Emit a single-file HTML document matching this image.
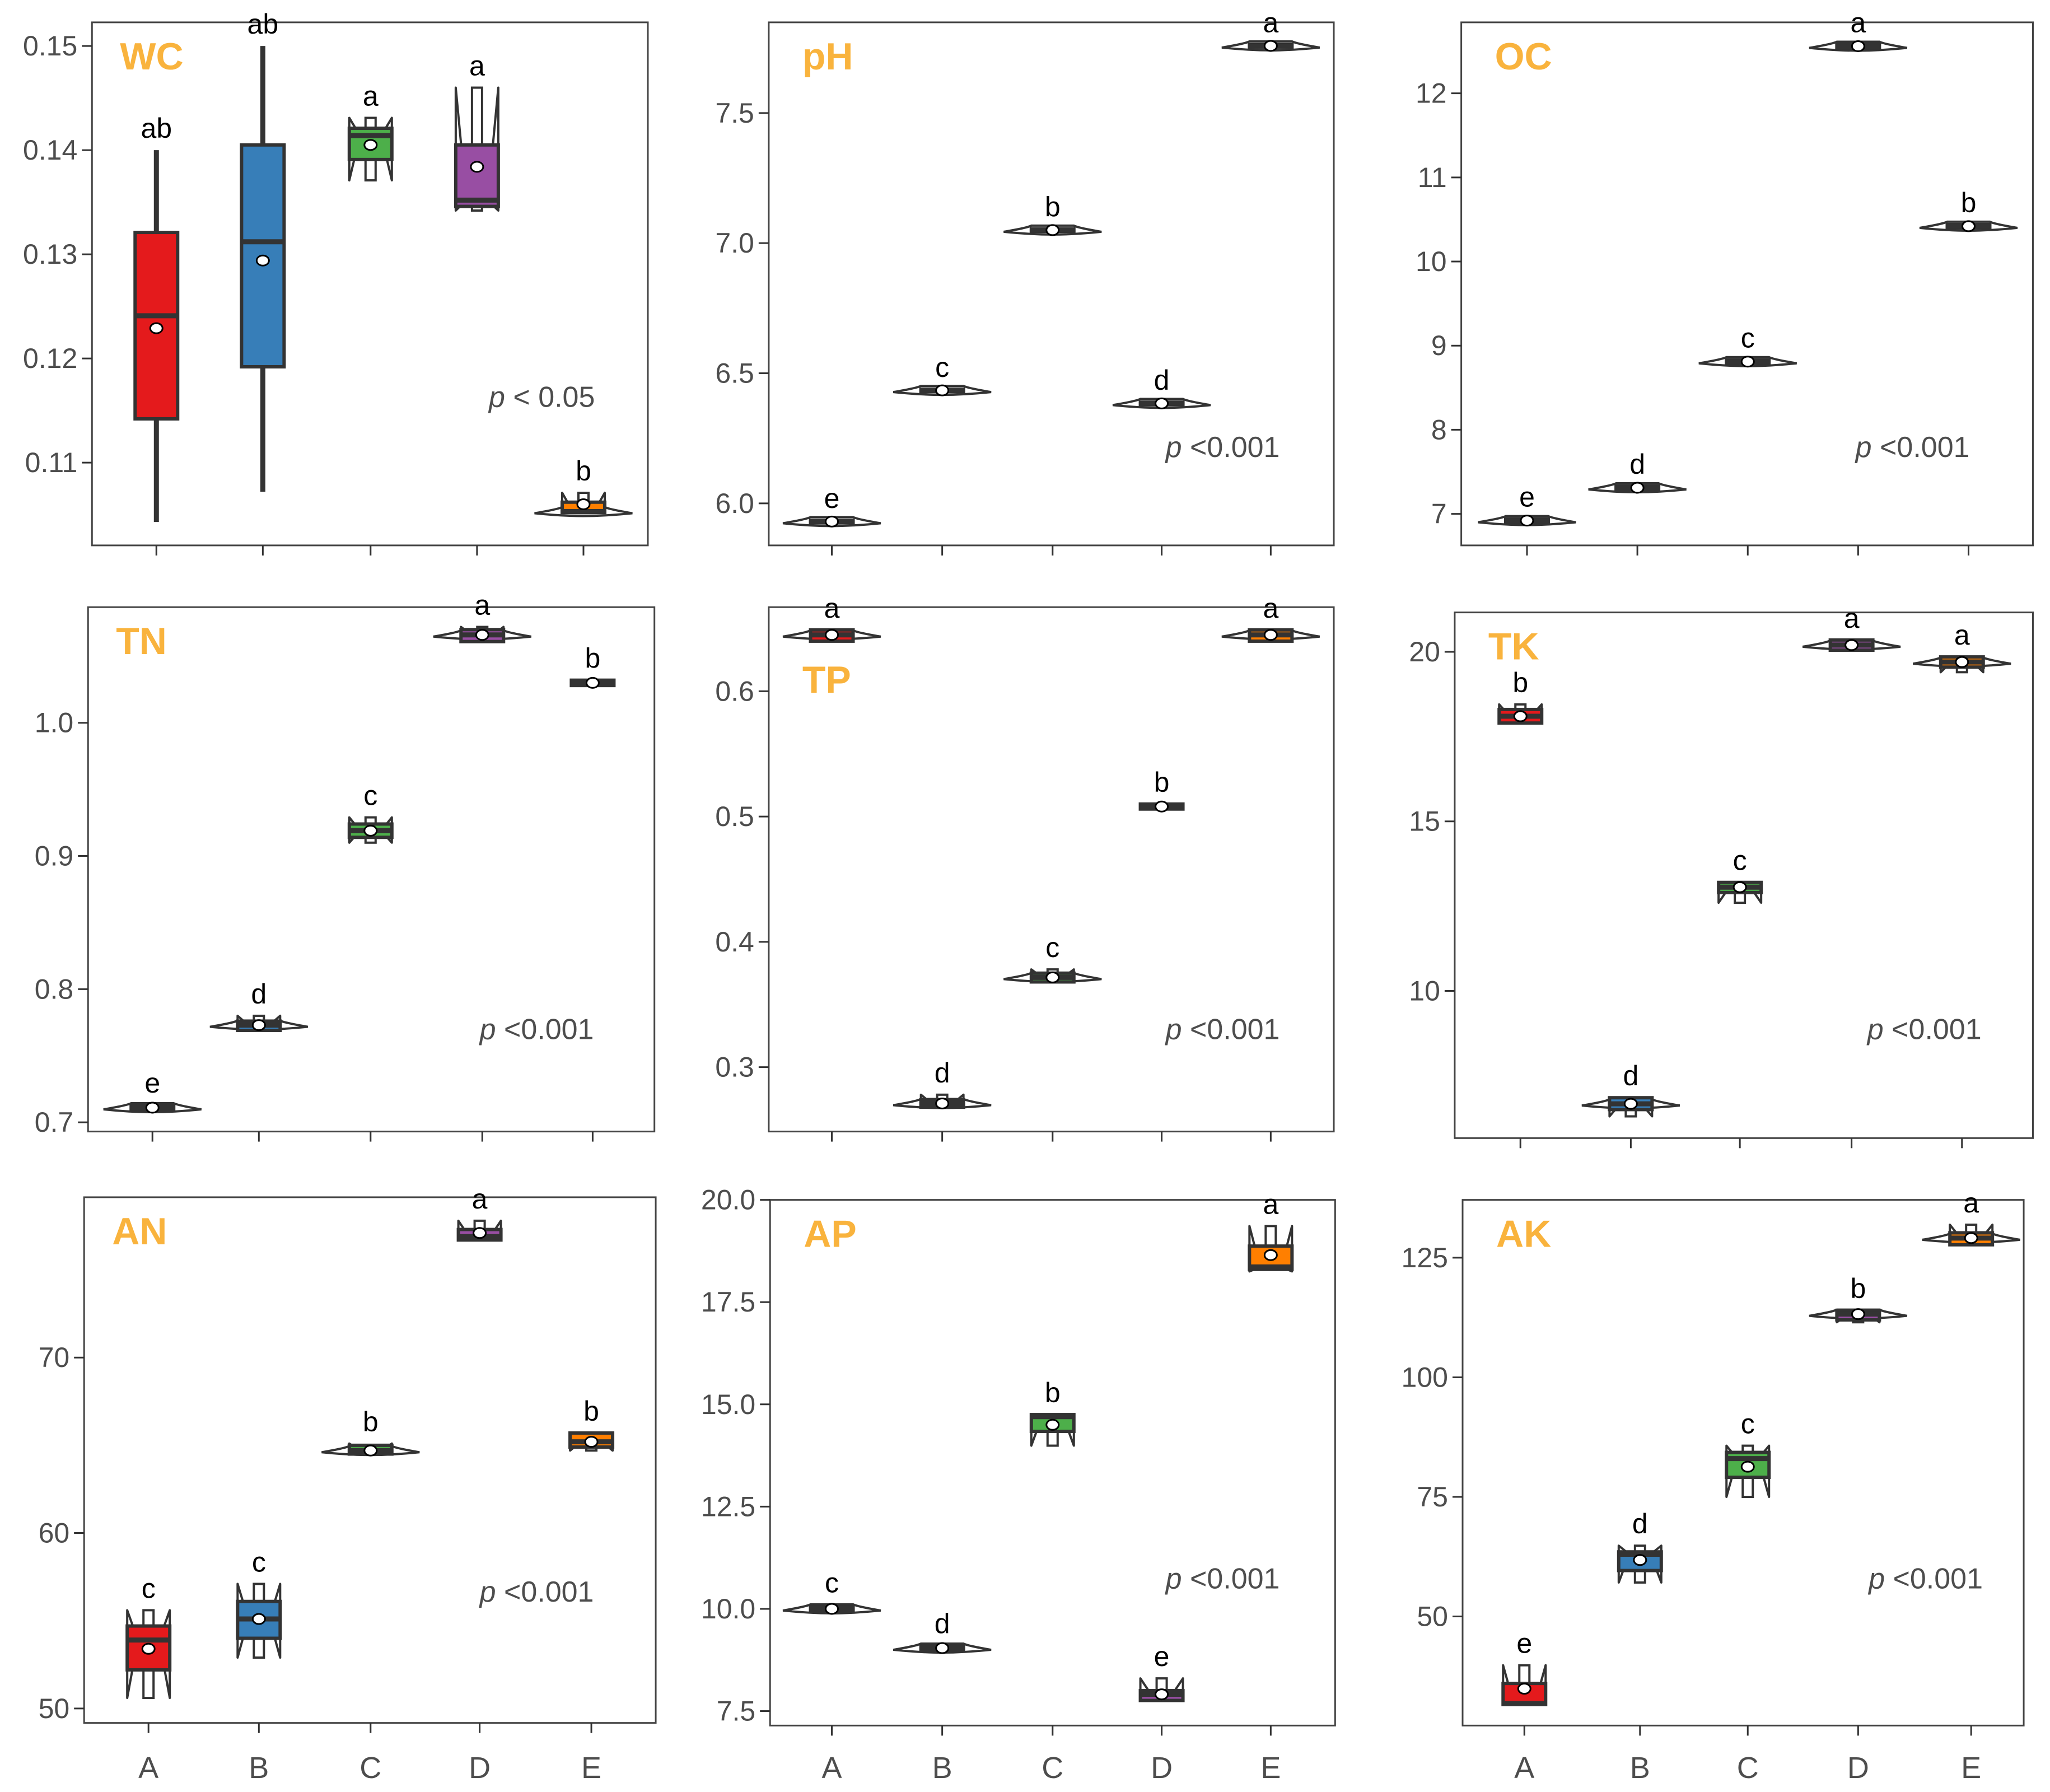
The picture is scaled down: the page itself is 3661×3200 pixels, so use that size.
<!DOCTYPE html>
<html><head><meta charset="utf-8"><style>
html,body{margin:0;padding:0;background:#fff}
svg{display:block}
</style></head><body>
<svg id="chart" xmlns="http://www.w3.org/2000/svg" width="3661" height="3200" viewBox="0 0 3661 3200"></svg>
<script>
const panelNames = ["WC","pH","OC","TN","TP","TK","AN","AP","AK"];
const categories = ["A","B","C","D","E"];
const pTexts = ["< 0.05","<0.001","<0.001","<0.001","<0.001","<0.001","<0.001","<0.001","<0.001"];
const tickValues = [
 [0.11,0.12,0.13,0.14,0.15],[6.0,6.5,7.0,7.5],[7,8,9,10,11,12],[0.7,0.8,0.9,1.0],[0.3,0.4,0.5,0.6],
 [10,15,20],[50,60,70],[7.5,10.0,12.5,15.0,17.5,20.0],[50,75,100,125]];
const tickLabels = [
 ["0.11","0.12","0.13","0.14","0.15"],["6.0","6.5","7.0","7.5"],["7","8","9","10","11","12"],["0.7","0.8","0.9","1.0"],["0.3","0.4","0.5","0.6"],
 ["10","15","20"],["50","60","70"],["7.5","10.0","12.5","15.0","17.5","20.0"],["50","75","100","125"]];
const meanV = [
 [0.1229,0.1294,0.1405,0.1384,0.1060],[5.93,6.434,7.05,6.384,7.758],[6.92,7.31,8.81,12.56,10.42],
 [0.711,0.773,0.919,1.066,1.030],[0.645,0.271,0.3716,0.508,0.645],[18.1,6.67,13.06,20.2,19.7],
 [53.4,55.1,64.7,77.1,65.2],[10.0,9.04,14.5,7.91,18.65],[34.9,61.8,81.3,113.2,129.1]];
const q1V = [
 [0.1142,0.1192,0.1391,0.1346,0.1052],[5.925,6.429,7.045,6.379,7.753],[6.90,7.29,8.79,12.54,10.40],
 [0.709,0.769,0.914,1.061,1.028],[0.640,0.268,0.368,0.506,0.640],[17.9,6.5,12.9,20.05,19.55],
 [52.2,54.0,64.5,76.7,64.9],[9.95,8.98,14.34,7.76,18.3],[31.6,59.6,79.1,112.0,127.7]];
const medV = [
 [0.1241,0.1312,0.1414,0.1352,0.1053],[5.93,6.434,7.05,6.384,7.758],[6.92,7.31,8.81,12.56,10.42],
 [0.711,0.773,0.919,1.066,1.030],[0.645,0.271,0.3716,0.508,0.645],[18.1,6.67,13.06,20.2,19.7],
 [53.9,55.1,64.7,76.9,65.2],[10.0,9.04,14.7,7.91,18.36],[31.8,63.0,83.0,113.2,129.1]];
const q3V = [
 [0.1321,0.1405,0.1421,0.1405,0.1062],[5.935,6.439,7.055,6.389,7.763],[6.94,7.33,8.83,12.58,10.44],
 [0.713,0.776,0.924,1.070,1.032],[0.649,0.274,0.375,0.510,0.649],[18.3,6.85,13.2,20.35,19.85],
 [54.7,56.1,65.0,77.3,65.7],[10.05,9.1,14.75,8.0,18.87],[36.0,63.5,84.3,114.0,130.2]];
const loV = [
 [0.1043,0.1072,0.1391,0.1346,0.1052],[5.925,6.429,7.045,6.379,7.753],[6.90,7.29,8.79,12.54,10.40],
 [0.709,0.769,0.914,1.061,1.028],[0.640,0.268,0.368,0.506,0.640],[17.9,6.5,12.9,20.05,19.55],
 [52.2,54.0,64.5,76.7,64.9],[9.95,8.98,14.34,7.76,18.3],[31.6,59.6,79.1,112.0,127.7]];
const hiV = [
 [0.140,0.150,0.1421,0.1405,0.1062],[5.935,6.439,7.055,6.389,7.763],[6.94,7.33,8.83,12.58,10.44],
 [0.713,0.776,0.924,1.070,1.032],[0.649,0.274,0.375,0.510,0.649],[18.3,6.85,13.2,20.35,19.85],
 [54.7,56.1,65.0,77.3,65.7],[10.05,9.1,14.75,8.0,18.87],[36.0,63.5,84.3,114.0,130.2]];
const notchLoV = [
 [0.1180,0.1250,0.1371,0.1342,0.1052],[5.93,6.434,7.05,6.384,7.758],[6.92,7.31,8.81,12.56,10.42],
 [0.711,0.773,0.910,1.066,1.030],[0.645,0.271,0.3716,0.508,0.645],[18.1,6.3,12.6,20.2,19.4],
 [50.6,52.9,64.7,76.9,64.7],[10.0,9.04,13.99,7.91,18.25],[31.8,57.1,75.0,111.5,129.1]];
const notchHiV = [
 [0.1300,0.1370,0.1431,0.1460,0.1071],[5.93,6.434,7.05,6.384,7.758],[6.92,7.31,8.81,12.56,10.42],
 [0.711,0.780,0.929,1.072,1.030],[0.648,0.278,0.378,0.508,0.648],[18.45,6.67,13.06,20.2,19.7],
 [55.6,57.1,65.1,77.8,65.7],[10.1,9.04,14.7,8.3,19.36],[39.8,64.8,85.7,113.2,131.9]];
const flareV = [
 [0,0,0,0,1],[1,1,1,1,1],[1,1,1,1,1],[1,1,0,1,0],[1,1,1,0,1],[0,1,0,1,1],
 [0,0,1,0,0],[1,1,0,0,0],[0,0,0,1,1]];
const lettersV = [
 ["ab","ab","a","a","b"],["e","c","b","d","a"],["e","d","c","a","b"],["e","d","c","a","b"],["a","d","c","b","a"],
 ["b","d","c","a","a"],["c","c","b","a","b"],["c","d","b","e","a"],["e","d","c","b","a"]];

const S = 3661/1560;
const frames = [[70,17,493,415],[585,17,1015,415],[1112,17,1547,415],[67,462,498,861],[585,462,1015,861],[1107,466,1547,866],[64,911,499,1311],[586,913,1016,1313],[1113,913,1540,1313]];
const catX = [[119,200,282,363,444],[633,717,801,884,967],[1162,1246,1330,1414,1498],[116,197,282,367,451],[633,717,801,884,967],[1157,1241,1324,1409,1493],[113,197,282,365,450],[633,717,801,884,967],[1160,1248,1330,1414,1500]];
const calib = [[0.15,35,0.11,352],[7.5,86,6.0,383],[12,71,7,391],[1.0,550,0.7,854],[0.6,526,0.3,812],[20,496,10,754],[70,1033,50,1300],[20,913,7.5,1302],[125,957,50,1230]];
const pPos = [[372,302],[887,340],[1412,340],[365,783],[887,783],[1421,783],[365,1211],[887,1201],[1422,1201]];
const titleDy = [84,84,84,84,153,84,84,84,84];
const colors = ["#E41A1C","#377EB8","#4DAF4A","#984EA3","#FF7F00"];

const NS="http://www.w3.org/2000/svg";
const svg=document.getElementById('chart');
function mk(tag,attrs,parent){const e=document.createElementNS(NS,tag);for(const k in attrs)e.setAttribute(k,attrs[k]);parent.appendChild(e);return e;}

panelNames.forEach((name,p)=>{
  const g=mk('g',{},svg);
  
  
  const [fx0,fy0,fx1,fy1]=frames[p].map(v=>v*S);
  const [v1,p1,v2,p2]=calib[p];
  const y=v=>S*(p1+(v-v1)*(p2-p1)/(v2-v1));
  const x=i=>catX[p][i]*S;
  const fr=mk('rect',{x:fx0,y:fy0,width:fx1-fx0,height:fy1-fy0,fill:'none',stroke:'#444',"stroke-width":3},g);
  
  
  tickValues[p].forEach((tv,k)=>{
    const ty=y(tv);
    const t=mk('line',{x1:fx0-18,x2:fx0,y1:ty,y2:ty,stroke:'#333',"stroke-width":3},g);
    
    
    const tl=mk('text',{x:fx0-26,y:ty+17,"text-anchor":"end","font-family":"Liberation Sans, sans-serif","font-size":50,fill:'#4d4d4d'},g);
    tl.textContent=tickLabels[p][k];
    
    
  });
  categories.forEach((c,i)=>{
    const t=mk('line',{x1:x(i),x2:x(i),y1:fy1,y2:fy1+18,stroke:'#333',"stroke-width":3},g);
    
    
    if(p>=6){
      const xl=mk('text',{x:x(i),y:3175,"text-anchor":"middle","font-family":"Liberation Sans, sans-serif","font-size":54,fill:'#4d4d4d'},g);
      xl.textContent=c;
      
      
    }
  });
  const tt=mk('text',{x:fx0+(p%3==0?50:60),y:fy0+titleDy[p],"font-family":"Liberation Sans, sans-serif","font-size":68,"font-weight":"bold",fill:'#F9B33D'},g);
  tt.textContent=name;
  
  
  const pt=mk('text',{x:pPos[p][0]*S,y:pPos[p][1]*S+18,"text-anchor":"start","font-family":"Liberation Sans, sans-serif","font-size":52,fill:'#4d4d4d'},g);
  const pi=mk('tspan',{"font-style":"italic"},pt);pi.textContent='p ';
  const pr=mk('tspan',{},pt);pr.textContent=pTexts[p];
  
  
  const hw=38;
  categories.forEach((c,i)=>{
    const bg=mk('g',{},g);
    
    
    const cx=x(i);
    const yq1=y(q1V[p][i]),yq3=y(q3V[p][i]),ym=y(medV[p][i]);
    const yl=y(loV[p][i]),yh=y(hiV[p][i]);
    const ynl=y(notchLoV[p][i]),ynh=y(notchHiV[p][i]);
    mk('line',{x1:cx,x2:cx,y1:yh,y2:yq3,stroke:'#333',"stroke-width":9},bg);
    mk('line',{x1:cx,x2:cx,y1:yq1,y2:yl,stroke:'#333',"stroke-width":9},bg);
    if(flareV[p][i]){
      const W=hw*2.3, yy=ym;
      mk('path',{d:`M${cx-W},${yy+3} Q${cx-hw*1.2},${yy-4} ${cx-hw},${yy-8} L${cx+hw},${yy-8} Q${cx+hw*1.2},${yy-4} ${cx+W},${yy+3} Q${cx+hw},${yy+8} ${cx},${yy+8} Q${cx-hw},${yy+8} ${cx-W},${yy+3}Z`,fill:'#fff',stroke:'#333',"stroke-width":4},bg);
    }
    const xn=hw*0.5;
    mk('polygon',{points:[[cx-hw,yq3],[cx-hw,ynh],[cx-xn,ym],[cx-hw,ynl],[cx-hw,yq1],[cx+hw,yq1],[cx+hw,ynl],[cx+xn,ym],[cx+hw,ynh],[cx+hw,yq3]].map(a=>a.join(',')).join(' '),fill:'#fff',stroke:'#333',"stroke-width":4,"stroke-linejoin":"round"},bg);
    if(ynh<yq3-4) mk('rect',{x:cx-9,y:ynh,width:18,height:yq3-ynh,fill:'#fff',stroke:'#333',"stroke-width":4},bg);
    if(ynl>yq1+4) mk('rect',{x:cx-9,y:yq1,width:18,height:ynl-yq1,fill:'#fff',stroke:'#333',"stroke-width":4},bg);
    mk('rect',{x:cx-hw,y:yq3,width:2*hw,height:Math.max(yq1-yq3,4),fill:colors[i],stroke:'#333',"stroke-width":6},bg);
    mk('line',{x1:cx-hw,x2:cx+hw,y1:ym,y2:ym,stroke:'#333',"stroke-width":9},bg);
    mk('ellipse',{cx:cx,cy:y(meanV[p][i]),rx:11,ry:9,fill:'#fff',stroke:'#000',"stroke-width":3},bg);
    const top=Math.min(yh,ynh,yq3);
    const lt=mk('text',{x:cx,y:top-22,"text-anchor":"middle","font-family":"Liberation Sans, sans-serif","font-size":50,fill:'#000'},g);
    lt.textContent=lettersV[p][i];
    
    
  });
});
</script>
</body></html>
